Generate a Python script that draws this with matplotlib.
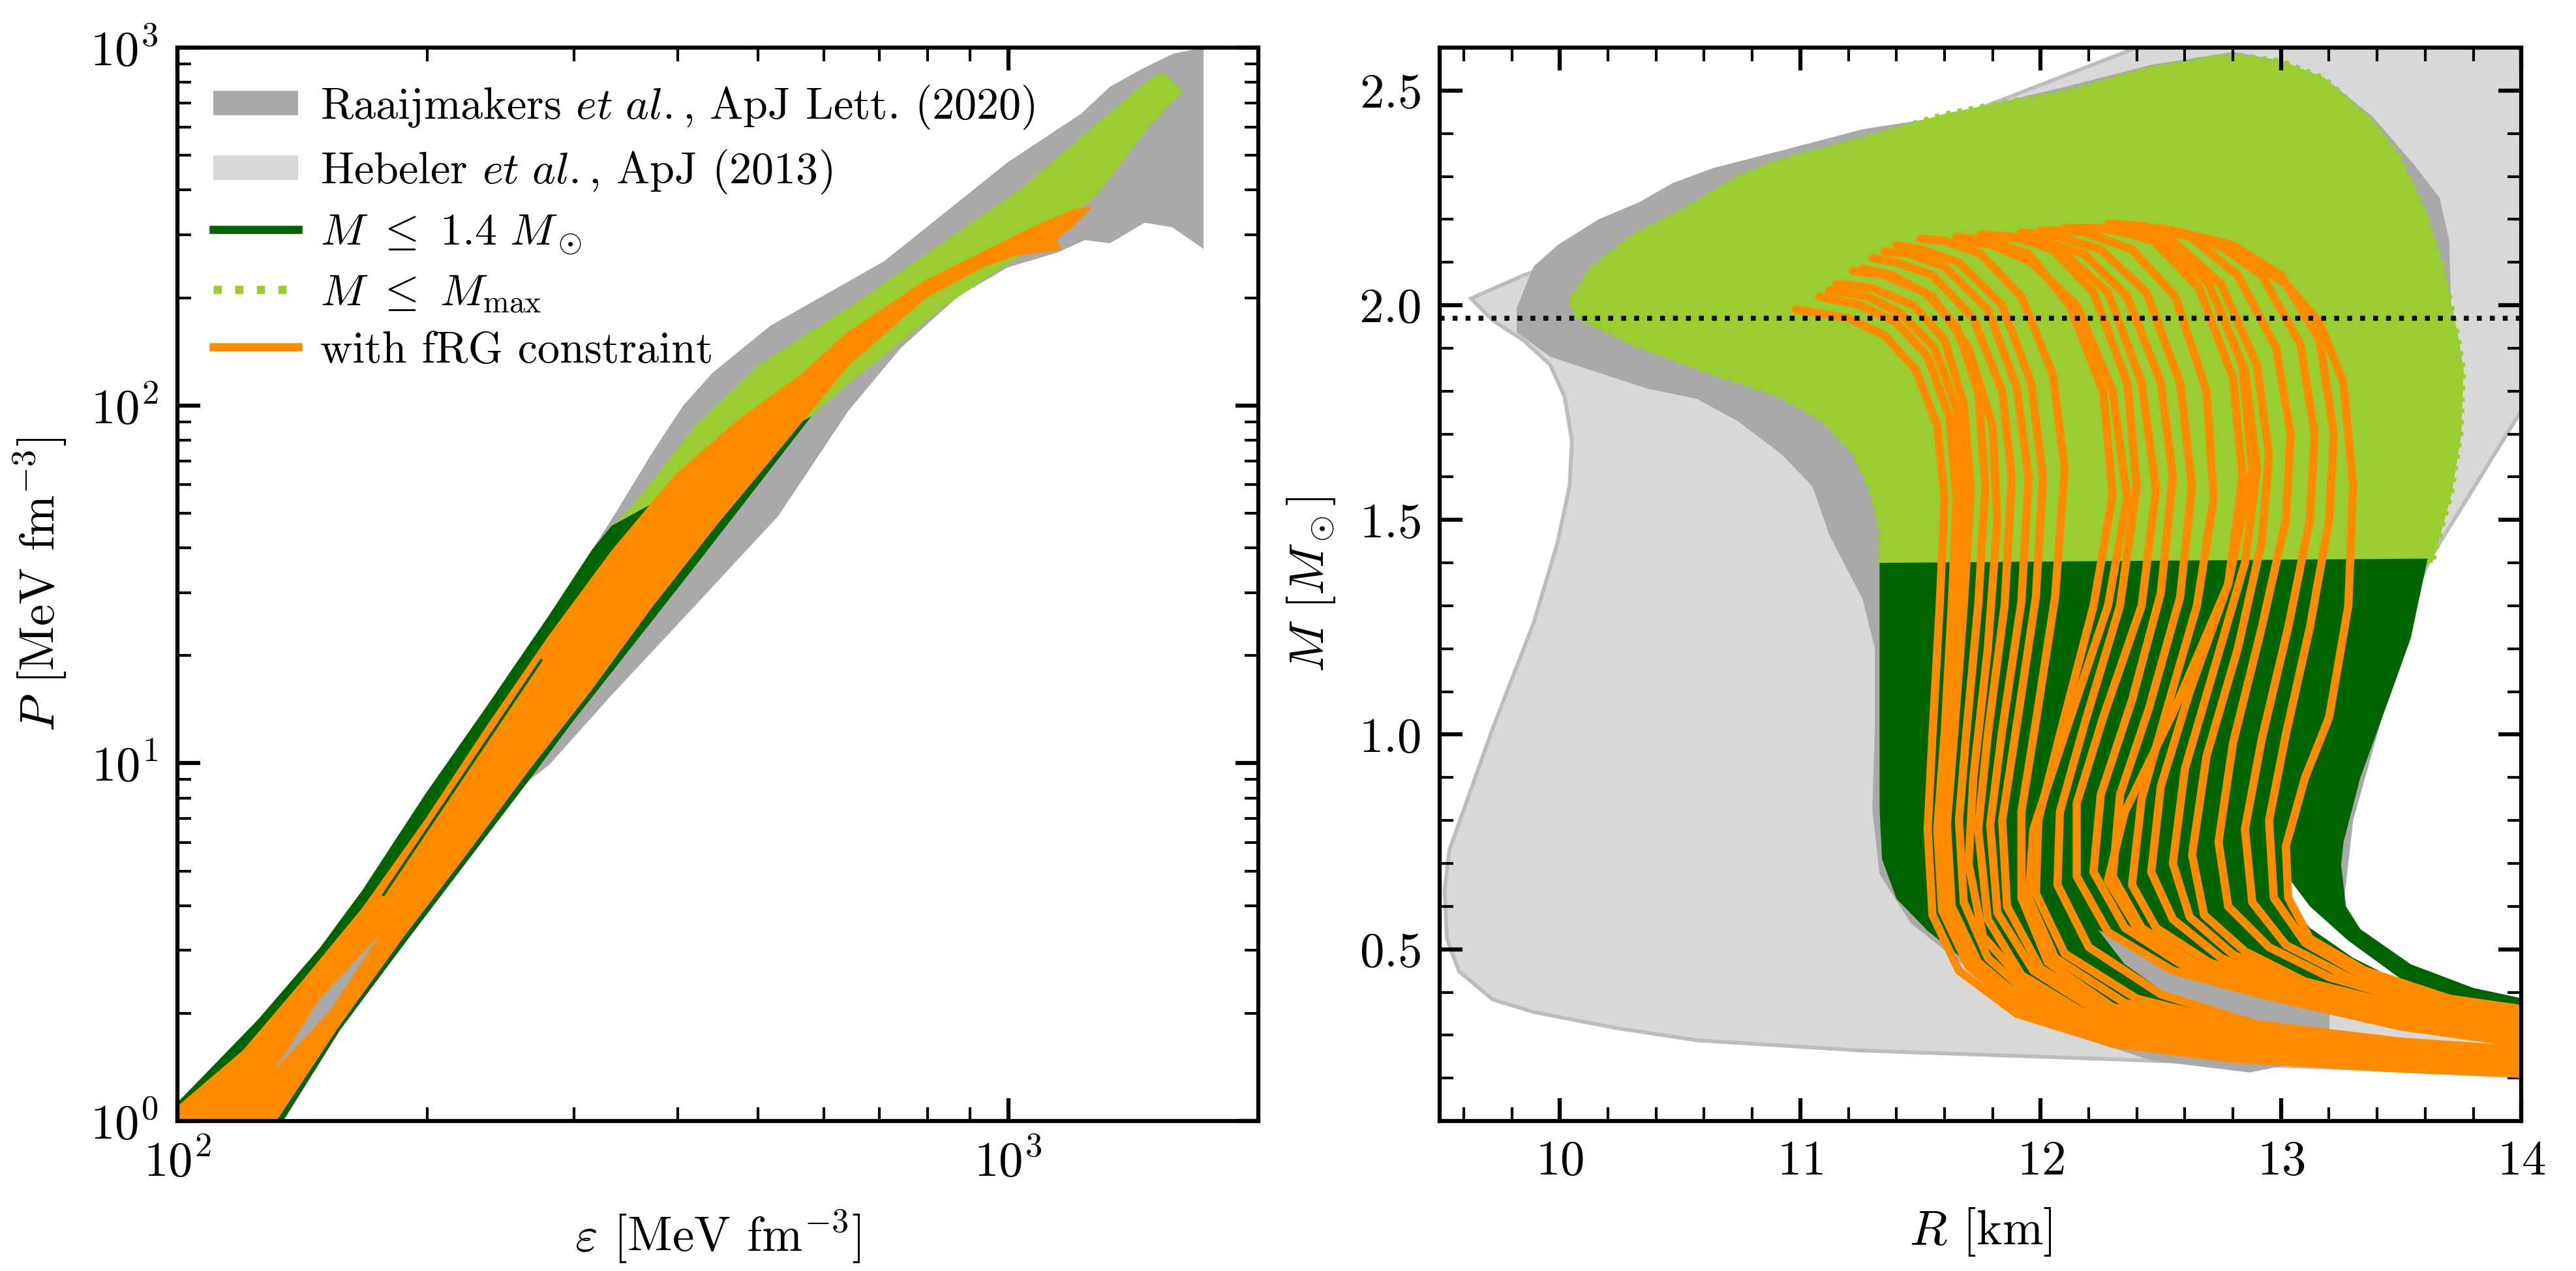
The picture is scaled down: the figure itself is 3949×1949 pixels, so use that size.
import numpy as np
import matplotlib
matplotlib.use('Agg')
import matplotlib.pyplot as plt
from matplotlib.lines import Line2D
from matplotlib.ticker import MultipleLocator, NullFormatter

# ---------------- left panel: P(eps) bands ----------------
raaij_eps_upper = [100, 105, 125, 148.6, 167, 198.4, 236, 280, 315, 333, 374, 406, 440, 517, 709, 998, 1223, 1325, 1445, 1581, 1718]
raaij_P_upper = [1.13, 1.265, 1.92, 3.06, 4.42, 8.15, 14.5, 25.9, 39.3, 48, 74.7, 99.8, 123, 167, 253, 478, 653, 777, 870, 963, 1000]
raaij_eps_lower = [1718, 1574, 1459, 1325, 1237, 1143, 998, 871, 743, 642, 529, 420, 333, 280, 265, 222.6, 187, 157, 134, 100]
raaij_P_lower = [274, 315, 324, 284, 290, 267, 243, 202, 145, 96.6, 49.2, 27.6, 15.5, 9.88, 8.97, 5.28, 3.1, 1.8, 1.0, 1.0]

green_eps_upper = [100, 105, 125, 148.6, 167, 198.4, 236, 280, 315, 333, 580]
green_P_upper = [1.125, 1.265, 1.92, 3.06, 4.42, 8.15, 14.5, 25.9, 39.3, 46.1, 93.5]
green_eps_lower = [499, 420, 353, 297, 265, 222.6, 187, 157, 134, 100]
green_P_lower = [59.6, 35.6, 21.3, 12.8, 8.97, 5.28, 3.1, 1.8, 1.0, 1.0]

lgreen_eps_upper = [333, 353, 420, 499, 663, 832, 1043, 1250, 1466, 1534, 1622]
lgreen_P_upper = [46.1, 52.4, 87.7, 129, 197, 284, 408, 588, 803, 855, 755]
lgreen_eps_lower = [1466, 1279, 1092, 931, 832, 726, 648, 580]
lgreen_P_lower = [588, 388, 284, 224, 187, 144, 117, 93.5]

orange_eps_upper = [100, 120, 142, 167, 198.4, 236, 280, 333, 396, 471, 560, 642, 795, 931, 1067, 1194, 1265]
orange_P_upper = [1.1, 1.58, 2.5, 3.95, 6.94, 12.8, 22.8, 39.3, 63.6, 90.6, 121, 161, 224, 269, 315, 352, 362]
orange_eps_lower = [1200, 1143, 1160, 1021, 931, 795, 642, 529, 445, 374, 315, 265, 222.6, 187, 157, 131.5, 100]
orange_P_lower = [318, 290, 272, 262, 243, 199, 129, 74.7, 46.1, 27.6, 16, 9.57, 5.54, 3.26, 1.86, 1.0, 1.0]

sliver_eps = [131, 148, 175, 153]
sliver_P = [1.39, 2.18, 3.31, 2.05]
streak_eps = [177, 274]
streak_P = [4.29, 19.4]

# ---------------- right panel: M(R) ----------------
heb_R = [9.63, 9.85, 10.5, 11.3, 11.8, 12.4, 12.6, 14.2, 14.2, 14.05, 13.62, 13.3, 13.05, 13.0, 13.3, 14.05, 14.2,
         14.05, 13.31, 12.63, 11.94, 11.26, 10.57, 10.23, 9.89, 9.72, 9.58, 9.53, 9.52, 9.54, 9.6, 9.72, 9.89,
         9.99, 10.04, 10.05, 10.02, 9.96, 9.85, 9.72]
heb_M = [2.016, 2.07, 2.2, 2.36, 2.47, 2.6, 2.65, 2.65, 1.9, 1.80, 1.41, 1.0, 0.72, 0.6, 0.45, 0.32, 0.3,
         0.204, 0.222, 0.237, 0.251, 0.264, 0.288, 0.317, 0.354, 0.383, 0.449, 0.524, 0.637, 0.731, 0.825, 1.014, 1.259,
         1.447, 1.579, 1.683, 1.786, 1.861, 1.918, 1.965]

raaij_R = [9.82, 9.89, 9.99, 10.16, 10.33, 10.47, 10.64, 10.92, 11.26, 11.6, 11.81, 12.11, 12.46, 12.8, 13.0, 13.18,
           13.38, 13.55, 13.66, 13.70, 13.71, 13.67, 13.62, 13.45, 13.3, 13.25, 13.25, 13.18, 13.04, 12.87, 12.46,
           12.15, 11.94, 11.67, 11.46, 11.33, 11.3, 11.31, 11.31, 11.26, 11.19, 11.12, 11.05, 10.92, 10.74, 10.57,
           10.37, 10.16, 9.96, 9.82]
raaij_M = [1.993, 2.09, 2.14, 2.20, 2.24, 2.285, 2.32, 2.36, 2.41, 2.44, 2.47, 2.51, 2.56, 2.59, 2.57, 2.53,
           2.44, 2.33, 2.25, 2.15, 1.95, 1.73, 1.45, 1.1, 0.8, 0.55, 0.39, 0.298, 0.232, 0.213, 0.241,
           0.298, 0.373, 0.467, 0.561, 0.675, 0.825, 1.014, 1.2, 1.315, 1.39, 1.466, 1.579, 1.654, 1.73, 1.782,
           1.805, 1.843, 1.88, 1.937]

lgreen_R = [11.33, 11.33, 11.29, 11.22, 11.09, 10.92, 10.57, 10.3, 10.06, 10.04, 10.13, 10.3, 10.5, 10.74, 10.92,
            11.26, 11.6, 11.81, 12.11, 12.46, 12.8, 13.0, 13.18, 13.38, 13.49, 13.6, 13.68, 13.74, 13.76, 13.75,
            13.71, 13.63]
lgreen_M = [1.4, 1.475, 1.57, 1.654, 1.73, 1.786, 1.852, 1.908, 1.975, 2.012, 2.087, 2.163, 2.22, 2.30, 2.34,
            2.39, 2.446, 2.47, 2.50, 2.555, 2.585, 2.57, 2.53, 2.43, 2.35, 2.22, 2.08, 1.92, 1.85, 1.7,
            1.56, 1.4]

dgreen_R = [11.33, 13.61, 13.54, 13.46, 13.33, 13.26, 13.25, 13.27, 13.33, 13.54, 13.8, 14.05, 14.05, 13.66, 13.31,
            12.97, 12.63, 12.29, 11.94, 11.70, 11.53, 11.4, 11.34, 11.33]
dgreen_M = [1.4, 1.41, 1.225, 1.1, 0.9, 0.75, 0.696, 0.6, 0.547, 0.465, 0.41, 0.38, 0.21, 0.222, 0.237,
            0.26, 0.298, 0.345, 0.40, 0.467, 0.543, 0.618, 0.71, 0.825]

gap_dark_R = [12.24, 12.59, 12.94, 13.2, 13.2, 12.94, 12.59, 12.35]
gap_dark_M = [0.545, 0.45, 0.398, 0.357, 0.289, 0.31, 0.37, 0.465]
gap_light_R = [13.2, 13.37, 14.05, 14.05, 13.37, 13.2]
gap_light_M = [0.357, 0.33, 0.27, 0.25, 0.30, 0.289]
gap_white_R = [13.02, 13.12, 13.28, 13.55, 13.3, 13.12, 13.03]
gap_white_M = [0.675, 0.6, 0.52, 0.41, 0.48, 0.55, 0.61]

# individual M(R) curves with the fRG constraint (low-mass tail -> M_max)
frg_R = [
    [14.2, 13.5, 12.8, 12.3, 11.9, 11.66, 11.55, 11.53, 11.55, 11.58, 11.6, 11.57, 11.48, 11.35, 11.2, 10.98],
    [14.2, 13.5, 12.8, 12.3, 11.92, 11.7, 11.59, 11.57, 11.6, 11.63, 11.65, 11.62, 11.53, 11.4, 11.25, 11.08],
    [14.2, 13.5, 12.8, 12.3, 11.93, 11.72, 11.61, 11.59, 11.62, 11.66, 11.68, 11.65, 11.56, 11.42, 11.28, 11.12],
    [14.2, 13.5, 12.8, 12.3, 11.95, 11.74, 11.63, 11.61, 11.64, 11.68, 11.71, 11.68, 11.6, 11.47, 11.3, 11.15],
    [14.2, 13.5, 12.8, 12.3, 11.98, 11.78, 11.68, 11.66, 11.69, 11.74, 11.77, 11.74, 11.65, 11.52, 11.35, 11.22],
    [14.2, 13.45, 12.75, 12.25, 11.95, 11.76, 11.7, 11.72, 11.78, 11.82, 11.8, 11.7, 11.55, 11.38, 11.26],
    [14.2, 13.4, 12.7, 12.2, 11.92, 11.78, 11.74, 11.78, 11.85, 11.88, 11.84, 11.72, 11.55, 11.4, 11.3],
    [14.2, 13.4, 12.75, 12.25, 11.97, 11.82, 11.79, 11.84, 11.92, 11.95, 11.9, 11.78, 11.6, 11.45, 11.35],
    [14.2, 13.4, 12.8, 12.3, 12.0, 11.86, 11.84, 11.9, 11.98, 12.01, 11.96, 11.84, 11.66, 11.5, 11.4],
    [14.2, 13.4, 12.8, 12.3, 12.03, 11.92, 11.92, 11.98, 12.06, 12.1, 12.05, 11.92, 11.75, 11.6, 11.5],
    [14.2, 13.45, 12.85, 12.35, 12.06, 11.95, 11.97, 12.1, 12.28, 12.36, 12.3, 12.15, 11.96, 11.8, 11.68],
    [14.2, 13.5, 12.9, 12.4, 12.1, 11.98, 11.99, 12.08, 12.22, 12.3, 12.26, 12.12, 11.95, 11.78, 11.65],
    [14.2, 13.5, 12.9, 12.5, 12.2, 12.07, 12.08, 12.18, 12.33, 12.4, 12.36, 12.22, 12.05, 11.88, 11.75],
    [14.2, 13.5, 12.95, 12.55, 12.28, 12.15, 12.15, 12.26, 12.42, 12.48, 12.42, 12.28, 12.1, 11.92, 11.8],
    [14.2, 13.5, 13.0, 12.6, 12.35, 12.22, 12.25, 12.38, 12.5, 12.55, 12.5, 12.36, 12.18, 12.0, 11.85],
    [14.2, 13.5, 13.0, 12.65, 12.4, 12.28, 12.35, 12.55, 12.78, 12.88, 12.84, 12.7, 12.5, 12.3, 12.15],
    [14.2, 13.5, 13.0, 12.65, 12.42, 12.3, 12.33, 12.45, 12.58, 12.63, 12.58, 12.44, 12.25, 12.07, 11.92],
    [14.2, 13.5, 13.0, 12.7, 12.48, 12.38, 12.42, 12.52, 12.65, 12.72, 12.69, 12.56, 12.38, 12.18, 12.0],
    [14.2, 13.5, 13.0, 12.75, 12.55, 12.46, 12.5, 12.62, 12.78, 12.84, 12.8, 12.66, 12.47, 12.27, 12.1],
    [14.2, 13.55, 13.05, 12.8, 12.62, 12.55, 12.6, 12.72, 12.85, 12.9, 12.85, 12.7, 12.5, 12.3, 12.15],
    [14.2, 13.6, 13.1, 12.85, 12.68, 12.63, 12.69, 12.82, 12.92, 12.95, 12.9, 12.75, 12.55, 12.35, 12.2],
    [14.2, 13.6, 13.2, 12.95, 12.78, 12.74, 12.8, 12.92, 13.02, 13.04, 12.98, 12.82, 12.62, 12.42, 12.28],
    [14.2, 13.65, 13.28, 13.02, 12.88, 12.85, 12.92, 13.03, 13.12, 13.14, 13.08, 12.92, 12.72, 12.5, 12.35],
    [14.2, 13.7, 13.35, 13.1, 12.97, 12.95, 13.02, 13.12, 13.2, 13.22, 13.16, 13.0, 12.8, 12.58, 12.42],
    [14.2, 13.7, 13.35, 13.12, 13.03, 13.02, 13.1, 13.2, 13.28, 13.3, 13.26, 13.16, 13.02, 12.85, 12.65, 12.45],
]
frg_M = [
    [0.205, 0.222, 0.245, 0.28, 0.35, 0.45, 0.58, 0.78, 1.0, 1.3, 1.55, 1.72, 1.85, 1.93, 1.97, 1.99],
    [0.21, 0.228, 0.252, 0.288, 0.36, 0.46, 0.59, 0.78, 1.0, 1.3, 1.55, 1.74, 1.88, 1.96, 2.0, 2.02],
    [0.212, 0.231, 0.256, 0.292, 0.365, 0.465, 0.595, 0.785, 1.0, 1.3, 1.56, 1.76, 1.9, 1.98, 2.02, 2.035],
    [0.215, 0.234, 0.26, 0.296, 0.37, 0.47, 0.6, 0.79, 1.0, 1.3, 1.57, 1.77, 1.92, 2.0, 2.04, 2.05],
    [0.22, 0.24, 0.266, 0.304, 0.38, 0.48, 0.61, 0.8, 1.0, 1.3, 1.58, 1.8, 1.95, 2.03, 2.07, 2.08],
    [0.225, 0.248, 0.278, 0.325, 0.41, 0.53, 0.7, 0.9, 1.2, 1.5, 1.72, 1.9, 2.02, 2.07, 2.085],
    [0.23, 0.255, 0.29, 0.345, 0.44, 0.57, 0.78, 1.0, 1.3, 1.6, 1.8, 1.97, 2.07, 2.1, 2.11],
    [0.235, 0.26, 0.295, 0.35, 0.45, 0.585, 0.79, 1.01, 1.31, 1.6, 1.81, 1.99, 2.09, 2.12, 2.125],
    [0.24, 0.265, 0.3, 0.355, 0.455, 0.6, 0.8, 1.02, 1.32, 1.6, 1.82, 2.0, 2.1, 2.13, 2.14],
    [0.245, 0.27, 0.31, 0.365, 0.47, 0.62, 0.82, 1.03, 1.32, 1.62, 1.84, 2.02, 2.12, 2.15, 2.155],
    [0.248, 0.272, 0.312, 0.375, 0.48, 0.62, 0.78, 1.0, 1.3, 1.55, 1.8, 2.0, 2.1, 2.14, 2.15],
    [0.25, 0.275, 0.315, 0.385, 0.49, 0.63, 0.8, 1.0, 1.3, 1.56, 1.8, 2.0, 2.12, 2.15, 2.16],
    [0.258, 0.285, 0.325, 0.395, 0.505, 0.65, 0.82, 1.02, 1.3, 1.58, 1.82, 2.03, 2.13, 2.16, 2.165],
    [0.265, 0.32, 0.39, 0.45, 0.54, 0.67, 0.84, 1.04, 1.3, 1.57, 1.82, 2.03, 2.12, 2.155, 2.16],
    [0.27, 0.33, 0.4, 0.46, 0.55, 0.68, 0.86, 1.08, 1.33, 1.6, 1.82, 2.02, 2.12, 2.15, 2.16],
    [0.278, 0.335, 0.405, 0.465, 0.55, 0.66, 0.82, 1.05, 1.35, 1.62, 1.86, 2.05, 2.15, 2.175, 2.18],
    [0.28, 0.335, 0.405, 0.465, 0.55, 0.67, 0.86, 1.06, 1.32, 1.58, 1.82, 2.03, 2.13, 2.16, 2.17],
    [0.285, 0.34, 0.41, 0.47, 0.55, 0.65, 0.85, 1.05, 1.3, 1.55, 1.8, 2.02, 2.13, 2.17, 2.175],
    [0.295, 0.35, 0.42, 0.48, 0.57, 0.68, 0.88, 1.1, 1.35, 1.6, 1.83, 2.04, 2.15, 2.18, 2.18],
    [0.3, 0.352, 0.422, 0.488, 0.575, 0.7, 0.92, 1.15, 1.4, 1.62, 1.85, 2.05, 2.15, 2.18, 2.18],
    [0.305, 0.355, 0.425, 0.495, 0.58, 0.72, 0.95, 1.2, 1.45, 1.65, 1.86, 2.05, 2.15, 2.18, 2.18],
    [0.32, 0.37, 0.435, 0.505, 0.6, 0.75, 0.98, 1.25, 1.5, 1.7, 1.9, 2.07, 2.16, 2.185, 2.19],
    [0.328, 0.375, 0.435, 0.51, 0.61, 0.78, 0.99, 1.25, 1.5, 1.7, 1.91, 2.07, 2.15, 2.18, 2.18],
    [0.335, 0.38, 0.435, 0.515, 0.62, 0.8, 1.0, 1.25, 1.5, 1.7, 1.92, 2.07, 2.14, 2.17, 2.175],
    [0.345, 0.385, 0.45, 0.525, 0.62, 0.74, 0.9, 1.04, 1.3, 1.58, 1.82, 1.96, 2.05, 2.11, 2.16, 2.18],
]

M_obs = 1.97

c_dgray = '#a9a9a9'
c_lgray = '#d8d8d8'
c_green = '#006400'
c_lgreen = '#9acd32'
c_orange = '#ff8c00'

plt.rcParams.update({
    'font.family': 'serif',
    'font.serif': ['cmr10'],
    'mathtext.fontset': 'cm',
    'axes.formatter.use_mathtext': True,
    'font.size': 9,
    'axes.linewidth': 0.75,
    'xtick.direction': 'in', 'ytick.direction': 'in',
    'xtick.top': True, 'ytick.right': True,
    'xtick.major.size': 4.2, 'ytick.major.size': 4.2,
    'xtick.minor.size': 2.5, 'ytick.minor.size': 2.5,
    'xtick.major.width': 0.75, 'ytick.major.width': 0.75,
    'xtick.minor.width': 0.5, 'ytick.minor.width': 0.5,
})

fig = plt.figure(figsize=(3949 / 600, 1949 / 600), dpi=600)
ax1 = fig.add_axes([0.0689, 0.1180, 0.4196, 0.8445])
ax2 = fig.add_axes([0.5589, 0.1180, 0.4199, 0.8445])

# left
ax1.fill(raaij_eps_upper + raaij_eps_lower, raaij_P_upper + raaij_P_lower, color=c_dgray, lw=0)
ax1.fill(green_eps_upper + green_eps_lower, green_P_upper + green_P_lower, color=c_green, lw=0)
ax1.fill(lgreen_eps_upper + lgreen_eps_lower, lgreen_P_upper + lgreen_P_lower, color=c_lgreen, lw=0)
ax1.fill(orange_eps_upper + orange_eps_lower, orange_P_upper + orange_P_lower, color=c_orange, lw=0)
ax1.fill(sliver_eps, sliver_P, color=c_dgray, lw=0)
ax1.plot(streak_eps, streak_P, color=c_green, lw=0.5)
ax1.set_xscale('log')
ax1.set_yscale('log')
ax1.set_xlim(100, 2000)
ax1.set_ylim(1, 1000)
ax1.xaxis.set_minor_formatter(NullFormatter())
ax1.yaxis.set_minor_formatter(NullFormatter())
ax1.set_xlabel(r'$\varepsilon$ [MeV fm$^{-3}$]')
ax1.set_ylabel(r'$P$ [MeV fm$^{-3}$]')

handles = [
    Line2D([], [], color=c_dgray, lw=4.5, solid_capstyle='butt'),
    Line2D([], [], color=c_lgray, lw=4.5, solid_capstyle='butt'),
    Line2D([], [], color=c_green, lw=1.5),
    Line2D([], [], color=c_lgreen, lw=1.5, ls=':'),
    Line2D([], [], color=c_orange, lw=1.5),
]
labels = [
    r'Raaijmakers $\it{et\ al.}\mathrm{,}$ ApJ Lett. (2020)',
    r'Hebeler $\it{et\ al.}\mathrm{,}$ ApJ (2013)',
    r'$M\ \leq\ 1.4\ M_\odot$',
    r'$M\ \leq\ M_{\max}$',
    'with fRG constraint',
]
ax1.legend(handles, labels, loc='upper left', frameon=False, fontsize=8.2,
           handlelength=1.9, handletextpad=0.5, labelspacing=0.38, borderaxespad=0.4)

# right
ax2.fill(heb_R, heb_M, facecolor=c_lgray, edgecolor='#bdbdbd', lw=0.7)
ax2.fill(raaij_R, raaij_M, color=c_dgray, lw=0)
ax2.fill(lgreen_R, lgreen_M, facecolor=c_lgreen, edgecolor=c_lgreen, lw=0.8, ls=':')
ax2.fill(dgreen_R, dgreen_M, color=c_green, lw=0)
ax2.fill(gap_dark_R, gap_dark_M, color=c_dgray, lw=0)
ax2.fill(gap_light_R, gap_light_M, color=c_lgray, lw=0)
ax2.fill(gap_white_R, gap_white_M, color='white', lw=0)
for R, M in zip(frg_R, frg_M):
    ax2.plot(R, M, color=c_orange, lw=1.5, solid_joinstyle='round', solid_capstyle='round')
ax2.axhline(M_obs, color='k', ls=':', lw=0.9, zorder=5)
ax2.set_xlim(9.5, 14)
ax2.set_ylim(0.1, 2.6)
ax2.xaxis.set_major_locator(MultipleLocator(1))
ax2.xaxis.set_minor_locator(MultipleLocator(0.2))
ax2.yaxis.set_major_locator(MultipleLocator(0.5))
ax2.yaxis.set_minor_locator(MultipleLocator(0.1))
ax2.set_xlabel(r'$R$ [km]')
ax2.set_ylabel(r'$M$ [$M_\odot$]')

fig.savefig('out.png', dpi=600)
